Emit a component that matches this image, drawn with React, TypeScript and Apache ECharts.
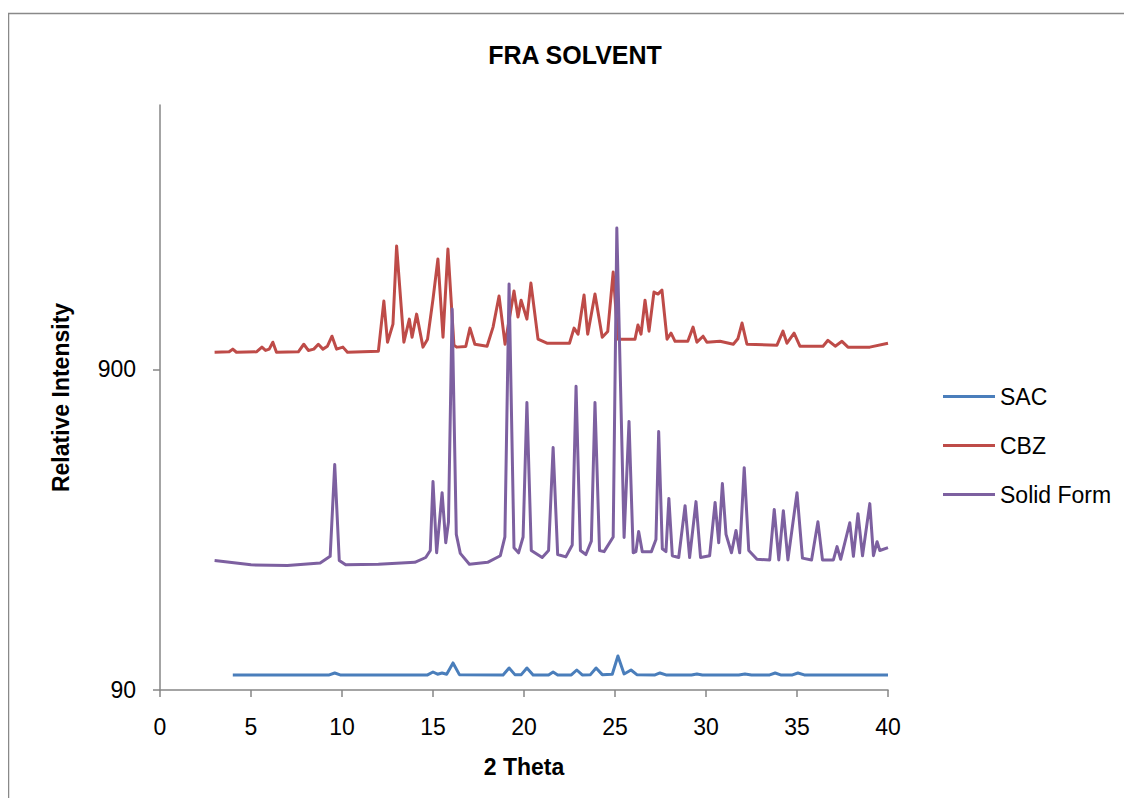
import React, { useEffect, useRef } from "react";
import * as echarts from "echarts";

// Powder X-ray diffraction patterns: [2θ (degrees), relative intensity]
const sacPoints: [number, number][] = [
  [4.0, 100.3], [9.3, 100.3], [9.6, 101.7], [9.9, 100.3], [14.7, 100.3],
  [15.0, 102.4], [15.25, 100.8], [15.5, 101.7], [15.75, 100.8], [16.1, 109.3],
  [16.45, 100.5], [18.85, 100.3], [19.18, 105.4], [19.5, 100.5], [19.85, 100.5],
  [20.16, 105.4], [20.5, 100.3], [21.35, 100.3], [21.6, 102.4], [21.85, 100.3],
  [22.6, 100.3], [22.9, 103.9], [23.2, 100.3], [23.65, 100.5], [23.96, 105.4],
  [24.3, 100.5], [24.85, 100.8], [25.16, 114.9], [25.5, 101.0], [25.88, 103.9],
  [26.2, 100.5], [27.2, 100.3], [27.47, 101.7], [27.8, 100.3], [29.2, 100.3],
  [29.5, 101.0], [29.8, 100.3], [31.8, 100.3], [32.14, 101.0], [32.5, 100.3],
  [33.5, 100.3], [33.8, 101.7], [34.1, 100.3], [34.75, 100.3], [35.05, 101.7],
  [35.4, 100.3], [40.0, 100.3],
];

const cbzPoints: [number, number][] = [
  [3.0, 1017], [3.8, 1020], [4.0, 1040], [4.2, 1017], [5.3, 1020], [5.6, 1055],
  [5.8, 1030], [6.0, 1040], [6.2, 1093], [6.4, 1017], [7.6, 1020], [7.9, 1077],
  [8.15, 1030], [8.45, 1040], [8.7, 1077], [8.95, 1040], [9.2, 1062], [9.45, 1141],
  [9.7, 1040], [10.05, 1055], [10.3, 1017], [12.0, 1025], [12.3, 1468], [12.5, 1093],
  [12.8, 1245], [13.0, 2181], [13.4, 1093], [13.7, 1290], [13.85, 1133], [14.1, 1337],
  [14.45, 1055], [14.7, 1117], [15.0, 1489], [15.27, 1986], [15.55, 1133], [15.82, 2134],
  [16.15, 1070], [16.3, 1055], [16.8, 1060], [17.03, 1209], [17.3, 1077], [17.97, 1062],
  [18.3, 1218], [18.63, 1522], [18.96, 1077], [19.45, 1578], [19.67, 1309], [19.84, 1478],
  [20.16, 1290], [20.38, 1671], [20.77, 1117], [21.26, 1085], [22.5, 1085], [22.75, 1209],
  [22.97, 1158], [23.3, 1533], [23.5, 1158], [23.9, 1544], [24.3, 1133], [24.6, 1180],
  [24.9, 1808], [25.16, 1117], [26.1, 1117], [26.26, 1236], [26.43, 1158], [26.65, 1478],
  [26.87, 1183], [27.14, 1566], [27.36, 1544], [27.58, 1589], [27.86, 1117], [28.08, 1166],
  [28.3, 1100], [29.0, 1100], [29.29, 1218], [29.5, 1093], [29.84, 1141], [30.05, 1093],
  [30.77, 1100], [31.5, 1077], [31.75, 1120], [31.98, 1254], [32.25, 1077], [33.9, 1070],
  [34.23, 1183], [34.45, 1085], [34.84, 1166], [35.16, 1062], [36.43, 1062], [36.7, 1108],
  [37.1, 1062], [37.47, 1100], [37.8, 1055], [39.0, 1055], [40.0, 1085],
];

const solidFormPoints: [number, number][] = [
  [3.0, 228], [5.0, 221], [7.0, 220], [8.8, 224], [9.35, 235], [9.6, 454], [9.85, 228],
  [10.2, 221], [12.0, 222], [14.0, 225], [14.6, 233], [14.85, 245], [15.0, 402],
  [15.2, 241], [15.5, 371], [15.7, 259], [15.85, 300], [16.05, 1386], [16.28, 275],
  [16.5, 240], [17.0, 222], [18.0, 225], [18.7, 236], [18.95, 270], [19.18, 1660],
  [19.45, 250], [19.7, 241], [19.95, 270], [20.16, 709], [20.4, 245], [21.0, 233],
  [21.35, 245], [21.6, 513], [21.85, 238], [22.3, 234], [22.65, 255], [22.86, 796],
  [23.1, 245], [23.4, 238], [23.7, 262], [23.9, 709], [24.15, 245], [24.4, 243],
  [24.9, 270], [25.1, 2482], [25.5, 269], [25.77, 619], [26.0, 241], [26.15, 243],
  [26.3, 281], [26.5, 243], [27.0, 243], [27.25, 265], [27.4, 576], [27.6, 248],
  [27.8, 243], [27.96, 356], [28.15, 236], [28.5, 233], [28.85, 338], [29.1, 233],
  [29.45, 348], [29.7, 233], [30.2, 236], [30.5, 346], [30.7, 259], [30.9, 396],
  [31.1, 275], [31.4, 241], [31.65, 283], [31.85, 241], [32.1, 444], [32.35, 245],
  [32.8, 230], [33.5, 229], [33.75, 329], [34.0, 229], [34.25, 326], [34.5, 229],
  [35.0, 371], [35.3, 232], [35.8, 229], [36.15, 301], [36.4, 229], [37.0, 229],
  [37.2, 252], [37.4, 230], [37.9, 299], [38.1, 235], [38.35, 319], [38.6, 236],
  [39.0, 343], [39.2, 236], [39.4, 261], [39.55, 245], [40.0, 250],
];

const seriesNames = ["SAC", "CBZ", "Solid Form"];
const seriesColors = ["#4A7EBB", "#BE4B48", "#7D60A0"];

// Logarithmic intensity axis: labelled decades start at Y_MIN
const Y_MIN = 90;
const Y_MAX = 6000;
const yTickValues = [90, 900];

const FONT = "'Liberation Sans', Arial, sans-serif";

const toLog = (v: number) => Math.log10(v / Y_MIN);

export default function App() {
  const ref = useRef<HTMLDivElement>(null);

  useEffect(() => {
    if (!ref.current) return;
    const chart = echarts.init(ref.current, null, { renderer: "svg" });
    const allPoints = [sacPoints, cbzPoints, solidFormPoints];

    chart.setOption({
      animation: false,
      backgroundColor: "#ffffff",
      grid: { left: 152, right: 236, top: 97, bottom: 108, containLabel: false },
      graphic: [
        {
          type: "rect",
          silent: true,
          shape: { x: 0.5, y: 5.5, width: 1300, height: 1000 },
          style: { fill: "none", stroke: "#898989", lineWidth: 1.5 },
        },
        {
          type: "text",
          x: 567,
          y: 47,
          style: {
            text: "FRA SOLVENT",
            fontFamily: FONT,
            fontSize: 25,
            fontWeight: "bold",
            fill: "#000000",
            textAlign: "center",
            textVerticalAlign: "middle",
          },
        },
      ],
      legend: {
        orient: "vertical",
        left: 935,
        top: 377,
        padding: 0,
        itemWidth: 52,
        itemHeight: 3,
        itemGap: 26,
        icon: "rect",
        textStyle: { fontFamily: FONT, fontSize: 23, color: "#000000", lineHeight: 23 },
        data: seriesNames,
      },
      xAxis: {
        type: "value",
        min: 0,
        max: 40,
        interval: 5,
        name: "2 Theta",
        nameLocation: "middle",
        nameGap: 65,
        nameTextStyle: { fontFamily: FONT, fontSize: 23, fontWeight: "bold", color: "#000000" },
        axisLine: { lineStyle: { color: "#868686", width: 1.5 } },
        axisTick: { show: true, length: 7, lineStyle: { color: "#868686", width: 1.5 } },
        axisLabel: { fontFamily: FONT, fontSize: 23, color: "#000000", margin: 25 },
        splitLine: { show: false },
      },
      yAxis: {
        type: "value",
        min: 0,
        max: toLog(Y_MAX),
        interval: 1,
        name: "Relative Intensity",
        nameLocation: "middle",
        nameGap: 88,
        nameTextStyle: { fontFamily: FONT, fontSize: 23, fontWeight: "bold", color: "#000000" },
        axisLine: { show: true, lineStyle: { color: "#868686", width: 1.5 } },
        axisTick: {
          show: true,
          length: 7,
          lineStyle: { color: "#868686", width: 1.5 },
          customValues: yTickValues.map(toLog),
        },
        axisLabel: {
          fontFamily: FONT,
          fontSize: 23,
          color: "#000000",
          margin: 24,
          customValues: yTickValues.map(toLog),
          formatter: (v: number) => String(Math.round(Y_MIN * Math.pow(10, v))),
        },
        splitLine: { show: false },
      },
      series: seriesNames.map((name, i) => ({
        name,
        type: "line",
        showSymbol: false,
        symbol: "none",
        smooth: false,
        color: seriesColors[i],
        lineStyle: { color: seriesColors[i], width: 3, join: "round" },
        data: allPoints[i].map(([t, v]) => [t, toLog(v)]),
      })),
    });

    return () => chart.dispose();
  }, []);

  return <div ref={ref} style={{ width: 1116, height: 790 }} />;
}
